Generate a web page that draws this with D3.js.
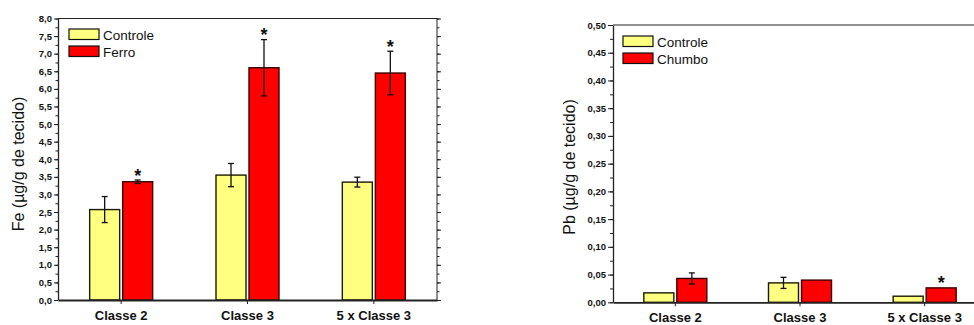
<!DOCTYPE html>
<html>
<head>
<meta charset="utf-8">
<script src="https://cdn.jsdelivr.net/npm/d3@7"></script>
<style>
  body { margin: 0; background: #fff; }
  svg { display: block; font-family: Arial, "Liberation Sans", sans-serif; }
</style>
</head>
<body>
<div id="chart"></div>
<script>
// categories and values
const categories = ["Classe 2", "Classe 3", "5 x Classe 3"];

const feControle = [2.57, 3.55, 3.35];
const feControleErr = [0.37, 0.33, 0.14];
const feFerro = [3.36, 6.6, 6.45];
const feFerroErr = [0.05, 0.8, 0.62];
const feSignificant = [true, true, true];

const pbControle = [0.017, 0.035, 0.011];
const pbControleErr = [0, 0.01, 0];
const pbChumbo = [0.043, 0.040, 0.026];
const pbChumboErr = [0.01, 0, 0];
const pbSignificant = [false, false, true];

const feTicks = d3.range(0, 8.01, 0.5);
const pbTicks = d3.range(0, 0.501, 0.05);

const width = 974, height = 325;
const svg = d3.select("#chart").append("svg")
    .attr("width", width)
    .attr("height", height);

const fmt = (digits) => (d) => d.toFixed(digits).replace(".", ",");

function drawPanel(opts) {
    const g = svg.append("g");
    const x = d3.scaleBand().domain(categories).range([opts.left, opts.right]).padding(0);
    const y = d3.scaleLinear().domain(opts.domain).range([opts.bottom, opts.top]);

    // frame
    g.append("line")
        .attr("x1", opts.left).attr("x2", opts.right)
        .attr("y1", opts.top).attr("y2", opts.top)
        .attr("stroke", "#222").attr("stroke-width", 1);
    if (opts.rightAxis) {
        g.append("line")
            .attr("x1", opts.right).attr("x2", opts.right)
            .attr("y1", opts.top).attr("y2", opts.bottom)
            .attr("stroke", "#222").attr("stroke-width", 1);
    }

    // minor ticks
    const minor = d3.range(opts.domain[0], opts.domain[1] + 1e-9, opts.minorStep);
    g.append("g")
        .attr("transform", `translate(${opts.left},0)`)
        .call(d3.axisLeft(y).tickValues(minor).tickSize(opts.minorSize).tickFormat("").tickSizeOuter(0))
        .call(a => a.select(".domain").remove());
    if (opts.rightAxis) {
        g.append("g")
            .attr("transform", `translate(${opts.right},0)`)
            .call(d3.axisRight(y).tickValues(minor).tickSize(opts.minorSize).tickFormat("").tickSizeOuter(0))
            .call(a => a.select(".domain").remove());
        g.append("g")
            .attr("transform", `translate(${opts.right},0)`)
            .call(d3.axisRight(y).tickValues(opts.ticks).tickSize(opts.majorSize).tickFormat("").tickSizeOuter(0))
            .call(a => a.select(".domain").remove());
    }

    // left axis
    const yAxis = g.append("g")
        .attr("transform", `translate(${opts.left},0)`)
        .call(d3.axisLeft(y).tickValues(opts.ticks).tickSize(opts.majorSize).tickPadding(2)
            .tickFormat(fmt(opts.digits)).tickSizeOuter(0));
    yAxis.select(".domain").attr("stroke", "#222").attr("stroke-width", 1.3);
    yAxis.selectAll("text")
        .attr("font-size", "9.5px")
        .attr("font-weight", "bold")
        .attr("fill", "#111")
        .attr("font-family", "Arial, 'Liberation Sans', sans-serif");
    g.selectAll(".tick line").attr("stroke", "#222");

    // bars
    const gap = 1.5, bw = 30;
    const series = [
        {values: opts.a, err: opts.aErr, fill: "#ffff80", stroke: "#1a1a00", dx: -gap - bw},
        {values: opts.b, err: opts.bErr, fill: "#ff0000", stroke: "#3a0000", dx: gap}
    ];
    series.forEach(s => {
        const cx = (d, i) => x(categories[i]) + x.bandwidth() / 2 + s.dx;
        g.selectAll(null).data(s.values).join("rect")
            .attr("x", (d, i) => cx(d, i))
            .attr("y", d => y(d))
            .attr("width", bw)
            .attr("height", d => y(opts.domain[0]) - y(d))
            .attr("fill", s.fill)
            .attr("stroke", s.stroke)
            .attr("stroke-width", 1.4);
        s.values.forEach((v, i) => {
            const e = s.err[i];
            if (!e) return;
            const mx = cx(v, i) + bw / 2;
            const eg = g.append("g").attr("stroke", "#111").attr("stroke-width", 1.3);
            eg.append("line").attr("x1", mx).attr("x2", mx).attr("y1", y(v - e)).attr("y2", y(v + e));
            eg.append("line").attr("x1", mx - 3).attr("x2", mx + 3).attr("y1", y(v - e)).attr("y2", y(v - e));
            eg.append("line").attr("x1", mx - 3).attr("x2", mx + 3).attr("y1", y(v + e)).attr("y2", y(v + e));
        });
    });

    // significance stars
    opts.sig.forEach((s, i) => {
        if (!s) return;
        const v = opts.b[i] + opts.bErr[i];
        g.append("text")
            .attr("x", x(categories[i]) + x.bandwidth() / 2 + gap + bw / 2)
            .attr("y", y(v) + 1.5)
            .attr("text-anchor", "middle")
            .attr("font-size", "18px")
            .attr("font-weight", "bold")
            .attr("fill", "#111")
            .text("*");
    });

    // bottom axis
    const xAxis = g.append("g")
        .attr("transform", `translate(0,${opts.bottom})`)
        .call(d3.axisBottom(x).tickSize(4).tickSizeOuter(0).tickFormat(""));
    xAxis.select(".domain").attr("stroke", "#222").attr("stroke-width", 1.8);
    xAxis.selectAll("line").attr("stroke", "#222");
    g.selectAll(null).data(categories).join("text")
        .attr("x", d => x(d) + x.bandwidth() / 2)
        .attr("y", opts.labelY)
        .attr("text-anchor", "middle")
        .attr("font-size", "13px")
        .attr("font-weight", "bold")
        .attr("fill", "#111")
        .text(d => d);

    // y label
    g.append("text")
        .attr("transform", `translate(${opts.yLabelX},${opts.yLabelY}) rotate(-90)`)
        .attr("text-anchor", "middle")
        .attr("font-size", "16px")
        .attr("fill", "#111")
        .text(opts.yLabel);

    // legend
    opts.legend.forEach((l, i) => {
        const ly = opts.legendY + i * 17;
        g.append("rect")
            .attr("x", opts.legendX).attr("y", ly)
            .attr("width", 30).attr("height", 10.5)
            .attr("fill", i === 0 ? "#ffff80" : "#ff0000")
            .attr("stroke", "#111").attr("stroke-width", 1.2);
        g.append("text")
            .attr("x", opts.legendX + 34).attr("y", ly + 10.5)
            .attr("font-size", "13.5px")
            .attr("fill", "#111")
            .text(l);
    });
}

drawPanel({
    left: 58, right: 437, top: 18.5, bottom: 300,
    domain: [0, 8], ticks: feTicks, minorStep: 0.25, digits: 1,
    majorSize: 4, minorSize: 2.5, rightAxis: true,
    a: feControle, aErr: feControleErr, b: feFerro, bErr: feFerroErr, sig: feSignificant,
    labelY: 320, yLabel: "Fe (\u00b5g/g de tecido)", yLabelX: 24, yLabelY: 164,
    legend: ["Controle", "Ferro"], legendX: 69, legendY: 29
});

drawPanel({
    left: 613, right: 987, top: 25, bottom: 302.3,
    domain: [0, 0.5], ticks: pbTicks, minorStep: 0.025, digits: 2,
    majorSize: 5, minorSize: 3, rightAxis: false,
    a: pbControle, aErr: pbControleErr, b: pbChumbo, bErr: pbChumboErr, sig: pbSignificant,
    labelY: 322, yLabel: "Pb (\u00b5g/g de tecido)", yLabelX: 575, yLabelY: 167,
    legend: ["Controle", "Chumbo"], legendX: 623, legendY: 36
});
</script>
</body>
</html>
